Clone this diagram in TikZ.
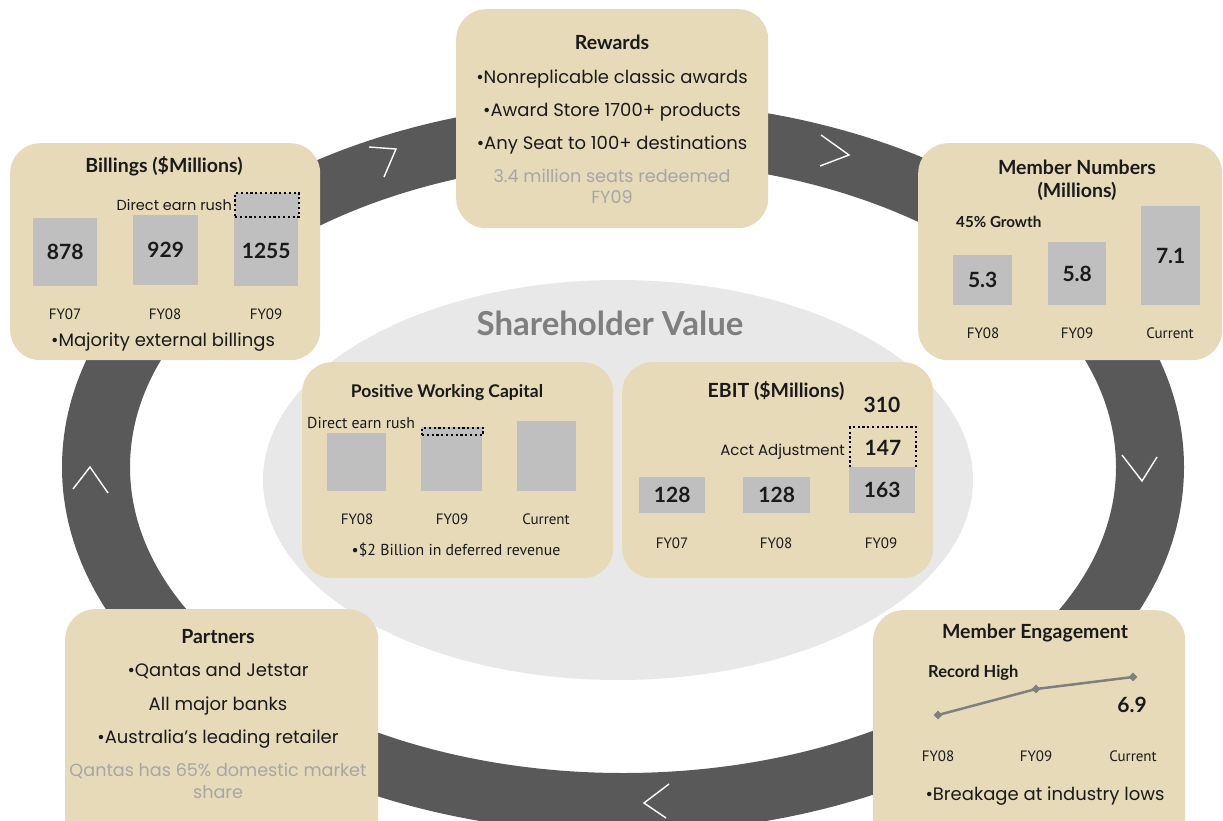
\documentclass[tikz,border=0pt]{standalone}
\usepackage{fontspec}
\setmainfont{Poppins}
\newfontfamily\hdfont{Lato}
\newfontfamily\lblfont{PT Sans}
\usetikzlibrary{shapes.geometric}
\definecolor{boxtan}{HTML}{E6DAB8}
\definecolor{bargray}{HTML}{BFBFBF}
\definecolor{ringgray}{HTML}{595959}
\definecolor{hubgray}{HTML}{E8E8E8}
\definecolor{softtext}{HTML}{A6A6A6}
\definecolor{inktext}{HTML}{1A1A1A}
\definecolor{linegray}{HTML}{7F7F7F}
\tikzset{
  panel/.style={fill=boxtan, rounded corners=30pt, inner sep=0pt, anchor=north west},
  bar/.style={fill=bargray, inner sep=0pt, anchor=north west, font=\hdfont\bfseries\fontsize{21}{24}\selectfont, text=inktext},
  dotbox/.style={draw=black, line width=2pt, dash pattern=on 2.2pt off 2.6pt, inner sep=0pt, anchor=north west},
  txt/.style={inner sep=0pt, text height=0.72em, text depth=0.02em, text=inktext, yshift=-2.5pt},
  ttl/.style={txt, font=\hdfont\bfseries\fontsize{19.5}{22}\selectfont},
  bul/.style={txt, font=\fontsize{18}{21}\selectfont},
  soft/.style={txt, font=\fontsize{17.6}{21}\selectfont, text=softtext},
  num/.style={txt, font=\hdfont\bfseries\fontsize{21}{24}\selectfont},
  lbl/.style={txt, font=\lblfont\fontsize{15}{17}\selectfont},
  note/.style={txt, font=\fontsize{14.5}{17}\selectfont},
  pnote/.style={txt, font=\lblfont\fontsize{15.8}{18}\selectfont},
  tag/.style={txt, font=\hdfont\bfseries\fontsize{15.2}{17}\selectfont},
  chev/.style={white, line width=1.4pt},
  dpoint/.style={diamond, fill=linegray, inner sep=0pt, minimum size=9pt}
}
\begin{document}
\begin{tikzpicture}[x=1pt,y=-1pt]
\useasboundingbox (0,0) rectangle (1223,821);
\clip (0,0) rectangle (1223,821);
\fill[white] (0,0) rectangle (1223,821);

% central hub and the cycle ring
\fill[hubgray] (618,480) ellipse [x radius=355pt, y radius=200pt];
\fill[ringgray, even odd rule] (623,467) ellipse [x radius=561pt, y radius=366pt]
                                (623,467) ellipse [x radius=493pt, y radius=306pt];

% direction chevrons on the ring
\draw[chev] (369,147) -- (396,149) -- (384,177);
\draw[chev] (821,135) -- (849,155) -- (820,166);
\draw[chev] (1122,455) -- (1142,481) -- (1157,457);
\draw[chev] (669,784) -- (644,803) -- (666,818);
\draw[chev] (73,489) -- (90,467) -- (108,493);

\node[txt, font=\hdfont\bfseries\fontsize{33}{36}\selectfont, text=linegray] (hub) at (610,329) {Shareholder Value};

% Rewards
\node[panel, minimum width=312pt, minimum height=219pt] (rew) at (456,9) {};
\node[ttl] (rewT) at (612,44) {Rewards};
\node[bul] (rew1) at (612,78) {•Nonreplicable classic awards};
\node[bul] (rew2) at (612,111) {•Award Store 1700+ products};
\node[bul] (rew3) at (612,144) {•Any Seat to 100+ destinations};
\node[soft] (rew4) at (612,177) {3.4 million seats redeemed};
\node[soft] (rew5) at (612,198) {FY09};

% Billings
\node[panel, minimum width=310pt, minimum height=217pt] (bil) at (10,143) {};
\node[ttl] (bilT) at (164,167) {Billings (\$Millions)};
\node[note, anchor=east] (bilN) at (232,205) {Direct earn rush};
\node[bar, minimum width=64pt, minimum height=68pt] (bil1) at (33,218) {878};
\node[bar, minimum width=65pt, minimum height=70pt] (bil2) at (133,215) {929};
\node[bar, minimum width=64pt, minimum height=71pt] (bil3) at (234,215) {1255};
\node[dotbox, fill=bargray, minimum width=64pt, minimum height=24pt] (bilD) at (234,192) {};
\node[lbl] (bilL1) at (65,313) {FY07};
\node[lbl] (bilL2) at (165,313) {FY08};
\node[lbl] (bilL3) at (266,313) {FY09};
\node[bul] (bilB) at (163,340) {•Majority external billings};

% Member Numbers
\node[panel, minimum width=304pt, minimum height=217pt] (mem) at (918,143) {};
\node[ttl] (memT1) at (1077,169) {Member Numbers};
\node[ttl] (memT2) at (1077,192) {(Millions)};
\node[tag, anchor=west] (memG) at (956,221) {45\% Growth};
\node[bar, minimum width=59pt, minimum height=50pt] (mem1) at (953,255) {5.3};
\node[bar, minimum width=58pt, minimum height=63pt] (mem2) at (1048,242) {5.8};
\node[bar, minimum width=59pt, minimum height=99pt] (mem3) at (1141,206) {7.1};
\node[lbl] (memL1) at (983,332) {FY08};
\node[lbl] (memL2) at (1077,332) {FY09};
\node[lbl] (memL3) at (1170,332) {Current};

% Positive Working Capital
\node[panel, minimum width=311pt, minimum height=216pt] (pwc) at (302,362) {};
\node[ttl, font=\hdfont\bfseries\fontsize{17.5}{20}\selectfont] (pwcT) at (447,391) {Positive Working Capital};
\node[pnote, anchor=west] (pwcN) at (307,422) {Direct earn rush};
\node[bar, minimum width=59pt, minimum height=58pt] (pwc1) at (327,433) {};
\node[bar, minimum width=61pt, minimum height=64pt] (pwc2) at (421,427) {};
\node[bar, minimum width=59pt, minimum height=70pt] (pwc3) at (517,421) {};
\node[dotbox, fill=bargray, minimum width=61pt, minimum height=7pt] (pwcD) at (421,427) {};
\node[lbl] (pwcL1) at (357,518) {FY08};
\node[lbl] (pwcL2) at (452,518) {FY09};
\node[lbl] (pwcL3) at (546,518) {Current};
\node[pnote] (pwcB) at (456,549) {•\$2 Billion in deferred revenue};

% EBIT
\node[panel, minimum width=311pt, minimum height=216pt] (ebit) at (622,362) {};
\node[ttl] (ebitT) at (776,391) {EBIT (\$Millions)};
\node[num] (ebitTot) at (882,406) {310};
\node[dotbox, minimum width=66pt, minimum height=41pt, font=\hdfont\bfseries\fontsize{21}{24}\selectfont, text=inktext] (ebitD) at (849,426) {147};
\node[note, font=\fontsize{15}{17}\selectfont, anchor=east] (ebitN) at (845,449) {Acct Adjustment};
\node[bar, minimum width=66pt, minimum height=36pt] (ebit1) at (639,477) {128};
\node[bar, minimum width=67pt, minimum height=36pt] (ebit2) at (743,477) {128};
\node[bar, minimum width=66pt, minimum height=46pt] (ebit3) at (849,467) {163};
\node[lbl] (ebitL1) at (672,542) {FY07};
\node[lbl] (ebitL2) at (776,542) {FY08};
\node[lbl] (ebitL3) at (881,542) {FY09};

% Partners
\node[panel, minimum width=313pt, minimum height=240pt] (par) at (65,609) {};
\node[ttl] (parT) at (218,637) {Partners};
\node[bul] (par1) at (218,670) {•Qantas and Jetstar};
\node[bul] (par2) at (218,704) {All major banks};
\node[bul] (par3) at (218,737) {•Australia’s leading retailer};
\node[soft] (par4) at (218,770) {Qantas has 65\% domestic market};
\node[soft] (par5) at (218,792) {share};

% Member Engagement
\node[panel, minimum width=312pt, minimum height=240pt] (eng) at (873,610) {};
\node[ttl] (engT) at (1035,632) {Member Engagement};
\node[tag, font=\hdfont\bfseries\fontsize{16.5}{19}\selectfont, anchor=west] (engR) at (928,671) {Record High};
\node[dpoint] (e1) at (938,715) {};
\node[dpoint] (e2) at (1036,689) {};
\node[dpoint] (e3) at (1133,677) {};
\draw[linegray, line width=2.5pt] (e1.center) -- (e2.center) -- (e3.center);
\node[num] (engV) at (1132,706) {6.9};
\node[lbl] (engL1) at (938,755) {FY08};
\node[lbl] (engL2) at (1036,755) {FY09};
\node[lbl] (engL3) at (1133,755) {Current};
\node[bul] (engB) at (1045,794) {•Breakage at industry lows};
\end{tikzpicture}
\end{document}
